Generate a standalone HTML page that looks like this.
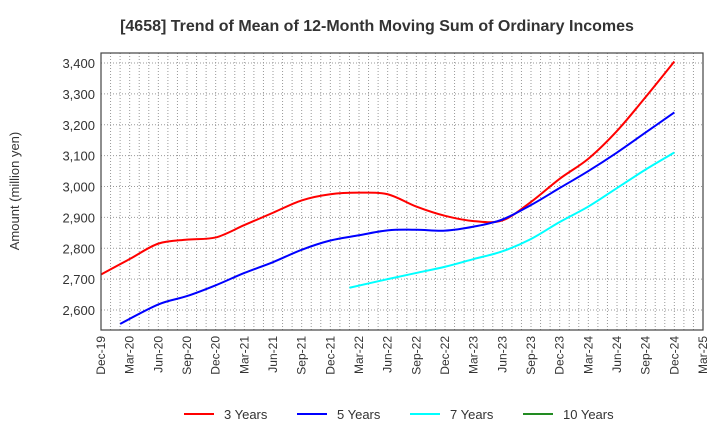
<!DOCTYPE html>
<html><head><meta charset="utf-8"><style>
body{margin:0;background:#fff;font-family:"Liberation Sans",sans-serif}
svg text{font-family:"Liberation Sans",sans-serif}
</style></head><body>
<svg id="c" width="720" height="440" xmlns="http://www.w3.org/2000/svg">
<text x="377" y="31" text-anchor="middle" font-size="16" font-weight="bold" fill="#333">[4658]  Trend of Mean of 12-Month Moving Sum of Ordinary Incomes</text>
<text transform="translate(19,191) rotate(-90)" text-anchor="middle" font-size="13" fill="#333">Amount (million yen)</text>
<g id="grid"></g><g id="series"></g><g id="axes"></g>
<g>
<line x1="184" y1="414" x2="214" y2="414" stroke="#f00" stroke-width="2"/><text x="224" y="419" font-size="13" fill="#333">3 Years</text>
<line x1="297" y1="414" x2="327" y2="414" stroke="#00f" stroke-width="2"/><text x="337" y="419" font-size="13" fill="#333">5 Years</text>
<line x1="410" y1="414" x2="440" y2="414" stroke="#0ff" stroke-width="2"/><text x="450" y="419" font-size="13" fill="#333">7 Years</text>
<line x1="523" y1="414" x2="553" y2="414" stroke="#228b22" stroke-width="2"/><text x="563" y="419" font-size="13" fill="#333">10 Years</text>
</g>
</svg>
<script>
const xLabels=["Dec-19","Mar-20","Jun-20","Sep-20","Dec-20","Mar-21","Jun-21","Sep-21","Dec-21","Mar-22","Jun-22","Sep-22","Dec-22","Mar-23","Jun-23","Sep-23","Dec-23","Mar-24","Jun-24","Sep-24","Dec-24","Mar-25"];
const yTicks=[2600,2700,2800,2900,3000,3100,3200,3300,3400];
const s3=[2715,2765,2815,2828,2835,2875,2915,2955,2975,2980,2975,2935,2905,2888,2890,2950,3025,3090,3180,3290,3405];
const s3Start=0;
const s3Lead=null;
const s5=[2560,2618,2645,2680,2720,2755,2795,2825,2842,2858,2860,2857,2870,2893,2940,2995,3050,3110,3175,3240];
const s5Start=1;
const s5Lead=2555;
const s7=[2675,2700,2720,2740,2765,2790,2830,2885,2935,2995,3055,3110];
const s7Start=9;
const s7Lead=2672;
const L=101,R=703,T=53,B=330;
const x=q=>L+q*(R-L)/21;
const y=v=>310-(v-2600)*(310-63)/800;
const NS="http://www.w3.org/2000/svg";
function mk(tag,at,parent){const e=document.createElementNS(NS,tag);for(const k in at)e.setAttribute(k,at[k]);parent.appendChild(e);return e;}
const grid=document.getElementById('grid'),axes=document.getElementById('axes'),ser=document.getElementById('series');
for(let m=1;m<63;m++){const gl=mk('line',{x1:L+m*(R-L)/63,x2:L+m*(R-L)/63,y1:T,y2:B,stroke:'#999','stroke-width':1,'stroke-dasharray':'1,2'},grid);

}
yTicks.forEach(v=>{const gl=mk('line',{x1:L,x2:R,y1:y(v),y2:y(v),stroke:'#999','stroke-width':1,'stroke-dasharray':'1,2'},grid);


const t=mk('text',{x:L-6,y:y(v)+5,'text-anchor':'end','font-size':13,fill:'#333'},axes);t.textContent=v.toLocaleString('en-US');

});
const fr=mk('rect',{x:L,y:T,width:R-L,height:B-T,fill:'none',stroke:'#444','stroke-width':1.2},axes);


xLabels.forEach((l,i)=>{const t=mk('text',{transform:`translate(${x(i)+4},336) rotate(-90)`,'text-anchor':'end','font-size':12,fill:'#333'},axes);t.textContent=l;

});
function path(vals,start,lead,color,name){const p=vals.map((v,i)=>[x(start+i),y(v)]);
if(lead!==null){p[0]=[x(start-1/3),y(lead)];}
let d=`M${p[0][0]},${p[0][1]}`;
for(let i=0;i<p.length-1;i++){const p0=p[i-1]||p[i],p1=p[i],p2=p[i+1],p3=p[i+2]||p2;
d+=` C${p1[0]+(p2[0]-p0[0])/6},${p1[1]+(p2[1]-p0[1])/6} ${p2[0]-(p3[0]-p1[0])/6},${p2[1]-(p3[1]-p1[1])/6} ${p2[0]},${p2[1]}`;}
const e=mk('path',{d:d,fill:'none',stroke:color,'stroke-width':2},ser);

}
path(s3,s3Start,s3Lead,'#f00','line-3-years');
path(s5,s5Start,s5Lead,'#00f','line-5-years');
path(s7,s7Start,s7Lead,'#0ff','line-7-years');
</script>
</body></html>
